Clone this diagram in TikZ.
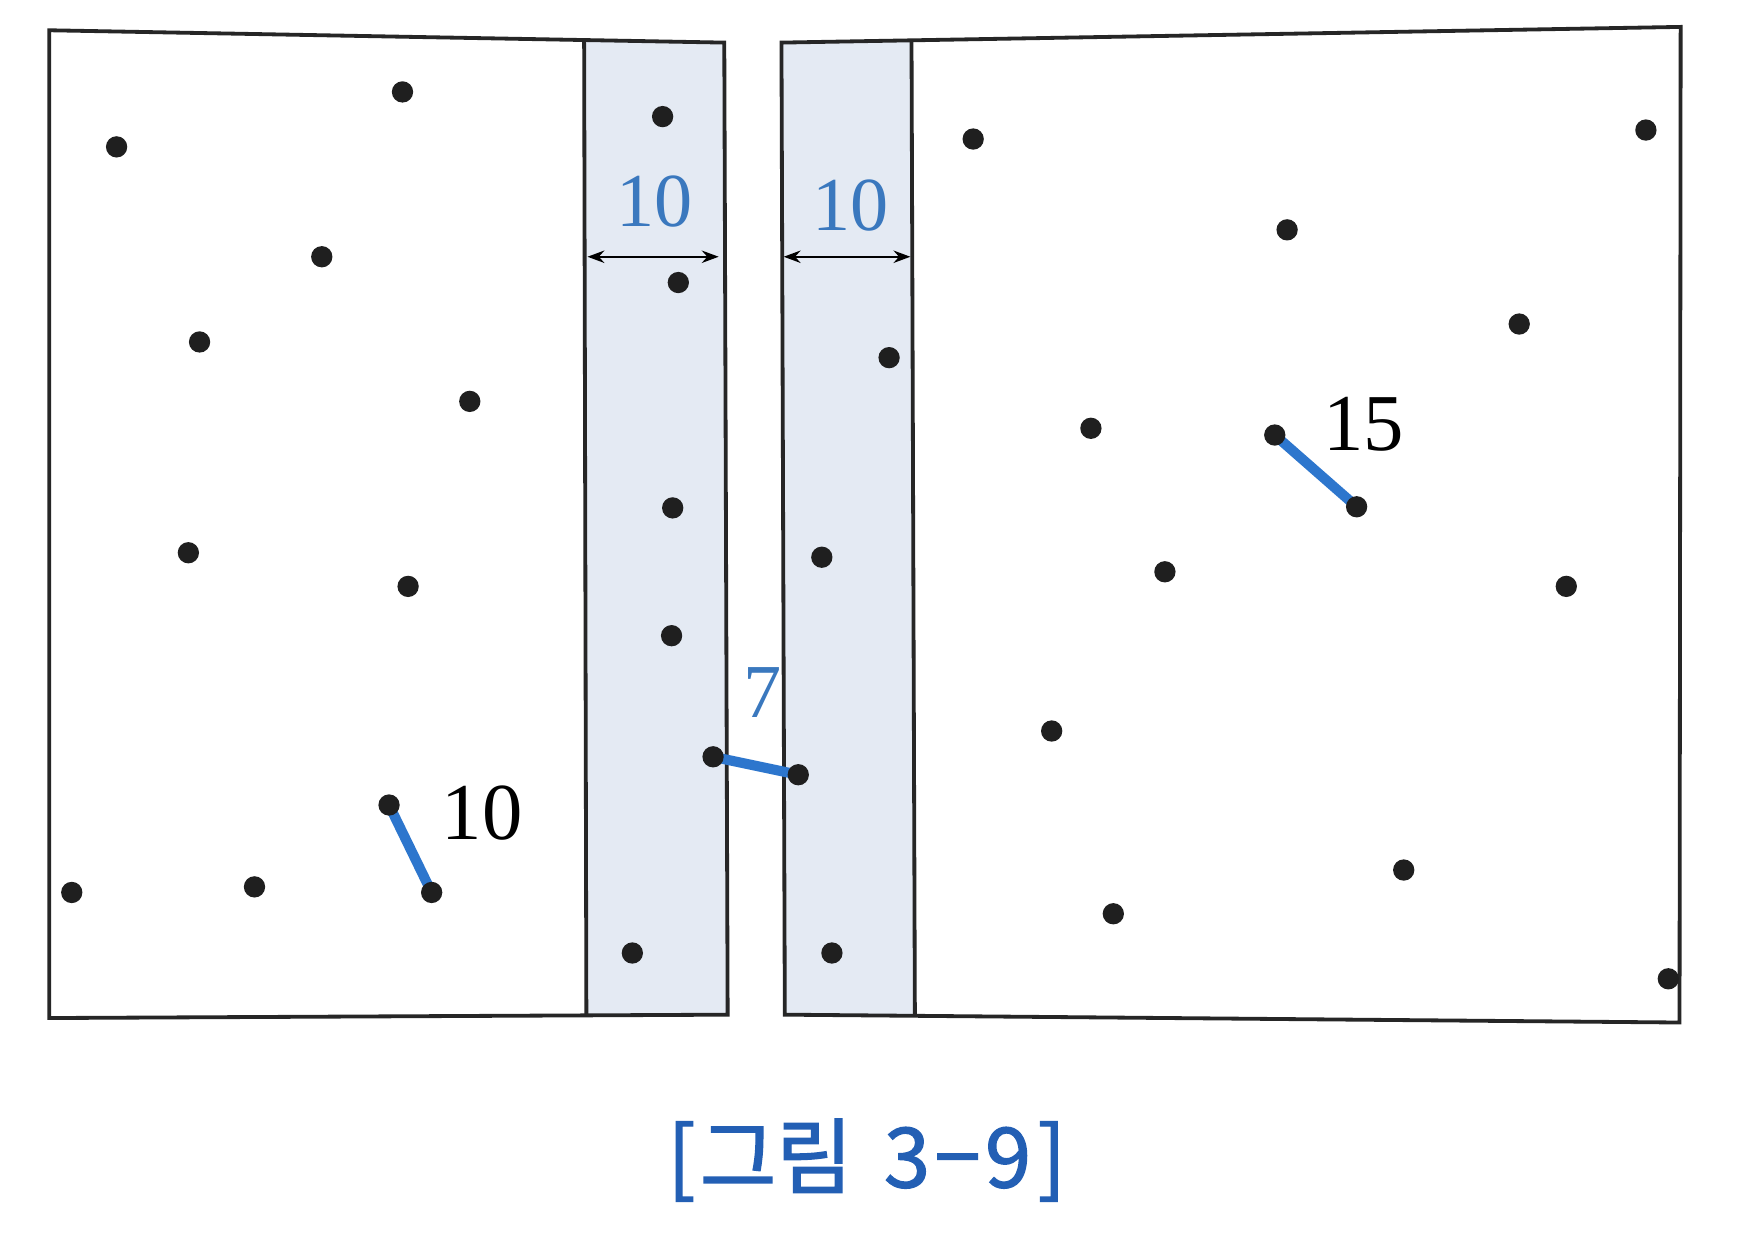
\documentclass[tikz,border=0pt]{standalone}
\usepackage{fontspec}
\setmainfont{Liberation Serif}
\newfontfamily\cjk[FakeBold=1.6]{Noto Sans CJK KR}
\usetikzlibrary{arrows.meta}
\definecolor{stripfill}{RGB}{228,234,243}
\definecolor{txtblue}{RGB}{58,120,190}
\definecolor{segblue}{RGB}{45,118,205}
\definecolor{capblue}{RGB}{35,95,180}
\pgfdeclarelayer{back}
\pgfdeclarelayer{mid}
\pgfsetlayers{back,mid,main}
\begin{document}
\begin{tikzpicture}[x=1pt,y=-1pt,
  dot/.style={circle,fill=black!88,inner sep=0pt,minimum size=19pt},
  frame/.style={line width=3.4pt,black!85},
  seg/.style={line width=9pt,segblue},
  dimarrow/.style={line width=2.2pt,{Stealth[length=15pt,width=11pt]}-{Stealth[length=15pt,width=11pt]}},
  numlbl/.style={inner sep=0pt,font=\fontsize{72}{72}\selectfont},
  bluelbl/.style={inner sep=0pt,text=txtblue,font=\fontsize{68}{68}\selectfont},
  caption/.style={inner sep=0pt,anchor=base,text=capblue,font=\cjk\fontsize{74}{74}\selectfont}]
\useasboundingbox (0,0) rectangle (1568,1108);
\begin{pgfonlayer}{back}
\fill[white] (0,0) rectangle (1568,1108);
\fill[stripfill] (521,37) -- (646,38) -- (649,905) -- (523,906) -- cycle;
\fill[stripfill] (697,38) -- (813,37) -- (816,906) -- (700,905) -- cycle;
\draw[frame] (44,27) -- (646,38) -- (649,905) -- (44,908) -- cycle;
\draw[frame] (521,37) -- (523,906);
\draw[frame] (697,38) -- (1499,24) -- (1498,912) -- (700,905) -- cycle;
\draw[frame] (813,37) -- (816,906);
\end{pgfonlayer}
% left box dots
\node[dot] (L1) at (104,131) {};
\node[dot] (L2) at (359,82) {};
\node[dot] (L3) at (287,229) {};
\node[dot] (L4) at (178,305) {};
\node[dot] (L5) at (419,358) {};
\node[dot] (L6) at (168,493) {};
\node[dot] (L7) at (364,523) {};
\node[dot] (L8) at (347,718) {};
\node[dot] (L9) at (385,796) {};
\node[dot] (L10) at (64,796) {};
\node[dot] (L11) at (227,791) {};
% left strip dots
\node[dot] (S1) at (591,104) {};
\node[dot] (S2) at (605,252) {};
\node[dot] (S3) at (600,453) {};
\node[dot] (S4) at (599,567) {};
\node[dot] (S5) at (636,675) {};
\node[dot] (S6) at (564,850) {};
% right strip dots
\node[dot] (T1) at (793,319) {};
\node[dot] (T2) at (733,497) {};
\node[dot] (T3) at (712,691) {};
\node[dot] (T4) at (742,850) {};
% right box dots
\node[dot] (R1) at (868,124) {};
\node[dot] (R2) at (1468,116) {};
\node[dot] (R3) at (1148,205) {};
\node[dot] (R4) at (1355,289) {};
\node[dot] (R5) at (973,382) {};
\node[dot] (R6) at (1137,388) {};
\node[dot] (R7) at (1210,452) {};
\node[dot] (R8) at (1039,510) {};
\node[dot] (R9) at (1397,523) {};
\node[dot] (R10) at (938,652) {};
\node[dot] (R11) at (1252,776) {};
\node[dot] (R12) at (993,815) {};
\node[dot] (R13) at (1488,873) {};
% distance segments
\begin{pgfonlayer}{mid}
\draw[seg] (L8.center) -- (L9.center);
\draw[seg] (S5.center) -- (T3.center);
\draw[seg] (R6.center) -- (R7.center);
\end{pgfonlayer}
% strip width arrows
\coordinate (a1) at (524,229);
\coordinate (a2) at (641,229);
\coordinate (b1) at (699,229);
\coordinate (b2) at (812,229);
\draw[dimarrow] (a1) -- (a2);
\draw[dimarrow] (b1) -- (b2);
% labels
\node[bluelbl] (w1) at (584,180) {10};
\node[bluelbl] (w2) at (759,183) {10};
\node[bluelbl] (d7) at (680,618) {7};
\node[numlbl] (d10) at (430,725) {10};
\node[numlbl] (d15) at (1216,378) {15};
\node[caption] (cap) at (773,1059) {[\kern4pt 그림\kern28pt 3\kern4pt−\kern4pt 9\kern6pt]};
\end{tikzpicture}
\end{document}
